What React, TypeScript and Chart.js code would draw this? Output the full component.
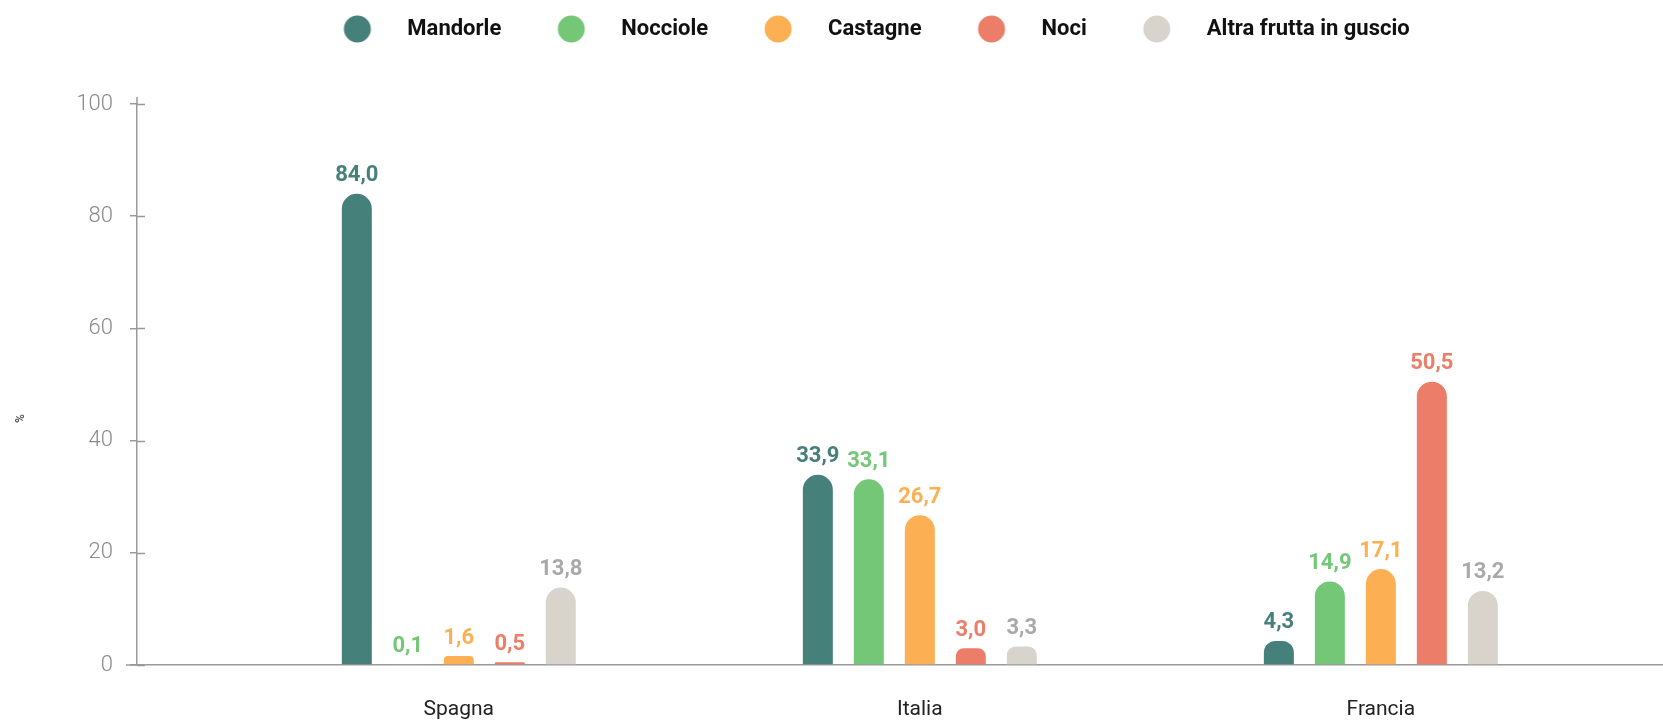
import React, { useEffect, useRef } from "react";
import { Chart, registerables } from "chart.js";

Chart.register(...registerables);

const categories = ["Spagna", "Italia", "Francia"];
const seriesNames = ["Mandorle", "Nocciole", "Castagne", "Noci", "Altra frutta in guscio"];
const mandorle = [84.0, 33.9, 4.3];
const nocciole = [0.1, 33.1, 14.9];
const castagne = [1.6, 26.7, 17.1];
const noci = [0.5, 3.0, 50.5];
const altra = [13.8, 3.3, 13.2];
const yTicks = [0, 20, 40, 60, 80, 100];

const seriesValues = [mandorle, nocciole, castagne, noci, altra];
const barColors = ["#46807b", "#74c776", "#fdb053", "#ec7d68", "#d8d4cc"];
const labelColors = ["#46807b", "#74c776", "#fdb053", "#ec7d68", "#a9a9a9"];

const FONT = "Roboto, 'Noto Sans', sans-serif";

function makeIcon(color: string) {
  const c = document.createElement("canvas");
  c.width = 99;
  c.height = 28;
  const ctx = c.getContext("2d")!;
  ctx.fillStyle = color;
  ctx.beginPath();
  ctx.arc(60, 14, 13.5, 0, Math.PI * 2);
  ctx.fill();
  return c;
}

export default function App() {
  const ref = useRef<HTMLCanvasElement | null>(null);

  useEffect(() => {
    document.body.style.margin = "0";
    const icons = barColors.map(makeIcon);

    const datasets = seriesNames.map((name, s) => ({
      label: name,
      data: seriesValues[s].map((v, i) => ({ x: i, y: v })),
      backgroundColor: barColors[s],
      borderWidth: 0,
      borderRadius: { topLeft: 15, topRight: 15, bottomLeft: 0, bottomRight: 0 },
      borderSkipped: "bottom" as const,
      categoryPercentage: 0.553,
      barPercentage: 0.588,
    }));

    const legendFitPlugin = {
      id: "legendFit",
      beforeInit(chart: any) {
        const lg = chart.legend;
        if (!lg) return;
        const orig = lg.fit;
        lg.fit = function () {
          orig.call(this);
          this.height = 96;
        };
      },
      afterLayout(chart: any) {
        const lg = chart.legend;
        if (lg) {
          lg.left += 22;
          lg.right += 22;
        }
      },
    };

    const axisDecor = {
      id: "axisDecor",
      afterDraw(chart: any) {
        const ctx = chart.ctx;
        const y = chart.scales.y;
        const area = chart.chartArea;
        ctx.save();
        ctx.strokeStyle = "#9a9a9a";
        ctx.lineWidth = 1.5;
        ctx.beginPath();
        yTicks.forEach((t) => {
          const py = Math.round(y.getPixelForValue(t)) + 0.5;
          ctx.moveTo(area.left, py);
          ctx.lineTo(area.left + 8, py);
        });
        ctx.moveTo(area.left, area.top);
        ctx.lineTo(area.left, area.top - 7);
        const by = y.getPixelForValue(0);
        ctx.moveTo(area.left - 11, by);
        ctx.lineTo(area.left, by);
        ctx.stroke();
        // axis title
        ctx.fillStyle = "#555";
        ctx.font = `bold 12px ${FONT}`;
        ctx.textAlign = "center";
        ctx.textBaseline = "middle";
        ctx.translate(21, (area.top + area.bottom) / 2 + 34);
        ctx.rotate(-Math.PI / 2);
        ctx.fillText("%", 0, 0);
        ctx.restore();
      },
    };

    const valueLabels = {
      id: "valueLabels",
      afterDatasetsDraw(chart: any) {
        const ctx = chart.ctx;
        ctx.save();
        ctx.font = `bold 22px ${FONT}`;
        ctx.textAlign = "center";
        ctx.textBaseline = "middle";
        chart.data.datasets.forEach((ds: any, di: number) => {
          const meta = chart.getDatasetMeta(di);
          ctx.fillStyle = labelColors[di];
          meta.data.forEach((el: any, i: number) => {
            const v = seriesValues[di][i];
            ctx.fillText(v.toFixed(1).replace(".", ","), el.x, el.y - 18);
          });
        });
        ctx.restore();
      },
    };

    const chart = new Chart(ref.current!, {
      type: "bar",
      data: { datasets },
      options: {
        animation: false,
        responsive: true,
        maintainAspectRatio: false,
        layout: { padding: { top: 8, bottom: 0, left: 0, right: 0 } },
        plugins: {
          tooltip: { enabled: false },
          legend: {
            position: "top",
            align: "center",
            labels: {
              usePointStyle: true,
              pointStyleWidth: 99,
              padding: 10,
              color: "#111",
              font: { family: FONT, size: 22, weight: "bold" },
              generateLabels: (ch: any) =>
                ch.data.datasets.map((ds: any, i: number) => ({
                  text: ds.label,
                  fillStyle: barColors[i],
                  strokeStyle: barColors[i],
                  lineWidth: 0,
                  pointStyle: icons[i],
                  hidden: false,
                  datasetIndex: i,
                  fontColor: "#111",
                })),
            },
          },
        },
        scales: {
          x: {
            type: "linear",
            offset: false,
            min: -0.698,
            max: 2.612,
            afterBuildTicks: (scale: any) => {
              scale.ticks = categories.map((_, i) => ({ value: i }));
            },
            afterFit: (scale: any) => {
              scale.height = 56;
            },
            ticks: {
              callback: (v: any) => categories[v as number] ?? "",
              color: "#222",
              padding: 32,
              maxRotation: 0,
              autoSkip: false,
              font: { family: FONT, size: 21 },
            },
            grid: { display: false, drawTicks: false, offset: false },
            border: { display: true, color: "#9a9a9a", width: 1.5 },
          },
          y: {
            min: 0,
            max: 100,
            afterFit: (scale: any) => {
              scale.width = 137;
            },
            afterBuildTicks: (scale: any) => {
              scale.ticks = yTicks.map((v) => ({ value: v }));
            },
            ticks: {
              color: "#8a8a8a",
              padding: 17,
              font: { family: FONT, size: 22, weight: 300 },
            },
            grid: {
              drawOnChartArea: false,
              drawTicks: true,
              tickLength: 7,
              color: "#9a9a9a",
              lineWidth: 1.5,
            },
            border: { display: true, color: "#9a9a9a", width: 1.5 },
          },
        },
      },
      plugins: [legendFitPlugin, axisDecor, valueLabels],
    } as any);

    return () => chart.destroy();
  }, []);

  return (
    <div style={{ width: 1663, height: 721, position: "relative", background: "#fff" }}>
      <canvas ref={ref} />
    </div>
  );
}
